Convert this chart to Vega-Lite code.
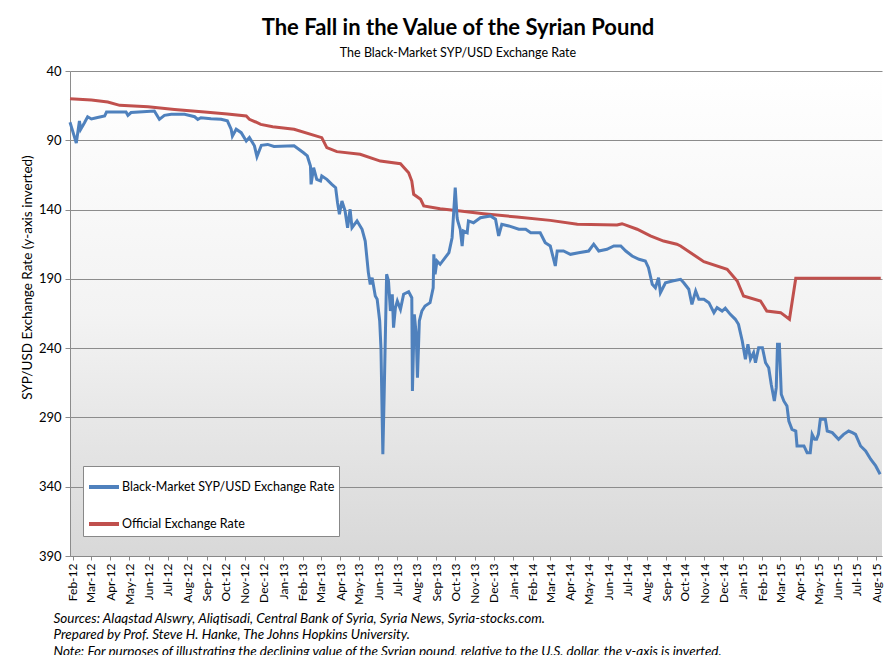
{
 "$schema": "https://vega.github.io/schema/vega-lite/v6.json",
 "width": 812,
 "height": 485,
 "autosize": {"type": "none"},
 "padding": {"left": 70, "top": 71, "right": 10, "bottom": 99},
 "background": "white",
 "title": {
  "text": "The Fall in the Value of the Syrian Pound",
  "subtitle": "The Black-Market SYP/USD Exchange Rate",
  "font": "Lato", "fontSize": 22, "fontWeight": "bold", "color": "#000",
  "subtitleFont": "Lato", "subtitleFontSize": 12.5, "subtitleColor": "#000",
  "subtitlePadding": 7, "anchor": "middle", "dx": -18, "offset": 5
 },
 "config": {
  "font": "Lato",
  "view": {
   "stroke": null,
   "fill": {"gradient": "linear", "x1": 0, "y1": 0, "x2": 0, "y2": 1,
    "stops": [{"offset": 0, "color": "#ffffff"}, {"offset": 0.5, "color": "#f3f3f3"}, {"offset": 1, "color": "#d8d8d8"}]}
  }
 },
 "datasets": {
  "blackmarket": [
   {"d":"2012-01-28","v":77},{"d":"2012-01-30","v":80},{"d":"2012-02-07","v":92},{"d":"2012-02-12","v":76},{"d":"2012-02-14","v":82},{"d":"2012-02-20","v":77.3},{"d":"2012-02-25","v":73},{"d":"2012-03-02","v":74.6},{"d":"2012-03-10","v":73.7},{"d":"2012-03-23","v":72.5},{"d":"2012-03-26","v":69.6},{"d":"2012-04-26","v":69.6},{"d":"2012-04-29","v":72},{"d":"2012-05-04","v":70},{"d":"2012-06-10","v":68.9},{"d":"2012-06-18","v":74.9},{"d":"2012-06-26","v":72},{"d":"2012-07-07","v":71.3},{"d":"2012-07-28","v":71.3},{"d":"2012-08-13","v":73},{"d":"2012-08-18","v":74.9},{"d":"2012-08-23","v":73.7},{"d":"2012-09-08","v":74.4},{"d":"2012-09-24","v":74.9},{"d":"2012-10-04","v":76},{"d":"2012-10-10","v":82},{"d":"2012-10-12","v":87},{"d":"2012-10-18","v":82},{"d":"2012-10-26","v":84.5},{"d":"2012-11-03","v":90.5},{"d":"2012-11-08","v":88},{"d":"2012-11-16","v":94},{"d":"2012-11-20","v":101.8},{"d":"2012-11-27","v":93.6},{"d":"2012-12-07","v":93},{"d":"2012-12-17","v":94.5},{"d":"2013-01-18","v":94},{"d":"2013-02-02","v":99},{"d":"2013-02-08","v":101.3},{"d":"2013-02-13","v":108.6},{"d":"2013-02-14","v":121.8},{"d":"2013-02-18","v":109.8},{"d":"2013-02-23","v":118.2},{"d":"2013-03-01","v":119.4},{"d":"2013-03-03","v":115.8},{"d":"2013-03-11","v":118.2},{"d":"2013-03-19","v":121.8},{"d":"2013-03-25","v":124.2},{"d":"2013-03-28","v":135},{"d":"2013-03-31","v":143.4},{"d":"2013-04-04","v":133.8},{"d":"2013-04-09","v":141},{"d":"2013-04-13","v":153.1},{"d":"2013-04-17","v":139.8},{"d":"2013-04-20","v":153.1},{"d":"2013-04-28","v":148.2},{"d":"2013-05-06","v":154.2},{"d":"2013-05-11","v":162.7},{"d":"2013-05-16","v":185.5},{"d":"2013-05-19","v":194},{"d":"2013-05-22","v":189.2},{"d":"2013-05-27","v":202.4},{"d":"2013-05-30","v":204.7},{"d":"2013-06-03","v":220.4},{"d":"2013-06-05","v":239.7},{"d":"2013-06-08","v":316.6},{"d":"2013-06-10","v":275.7},{"d":"2013-06-14","v":186.7},{"d":"2013-06-17","v":191.5},{"d":"2013-06-20","v":213.2},{"d":"2013-06-23","v":201.1},{"d":"2013-06-25","v":225.2},{"d":"2013-06-28","v":210.8},{"d":"2013-07-01","v":206},{"d":"2013-07-06","v":212},{"d":"2013-07-11","v":201.1},{"d":"2013-07-19","v":199.3},{"d":"2013-07-24","v":203.6},{"d":"2013-07-25","v":270.9},{"d":"2013-07-28","v":215.6},{"d":"2013-07-31","v":230},{"d":"2013-08-02","v":261.3},{"d":"2013-08-05","v":220.4},{"d":"2013-08-09","v":213.2},{"d":"2013-08-14","v":209.6},{"d":"2013-08-22","v":207.2},{"d":"2013-08-27","v":196.4},{"d":"2013-08-28","v":172.3},{"d":"2013-08-30","v":186.7},{"d":"2013-09-02","v":177.1},{"d":"2013-09-07","v":179.5},{"d":"2013-09-15","v":174.7},{"d":"2013-09-21","v":171.1},{"d":"2013-09-26","v":160.3},{"d":"2013-09-28","v":145.9},{"d":"2013-10-01","v":124.2},{"d":"2013-10-04","v":145.9},{"d":"2013-10-05","v":148.2},{"d":"2013-10-09","v":154.2},{"d":"2013-10-12","v":166.3},{"d":"2013-10-14","v":155.5},{"d":"2013-10-20","v":156.7},{"d":"2013-10-22","v":148.2},{"d":"2013-10-30","v":149.5},{"d":"2013-11-10","v":145.9},{"d":"2013-11-26","v":144.6},{"d":"2013-12-04","v":147},{"d":"2013-12-09","v":159},{"d":"2013-12-14","v":150.6},{"d":"2013-12-25","v":151.8},{"d":"2014-01-10","v":154.2},{"d":"2014-01-21","v":154.2},{"d":"2014-01-29","v":156.7},{"d":"2014-02-13","v":156.7},{"d":"2014-02-21","v":163.9},{"d":"2014-03-01","v":166.3},{"d":"2014-03-09","v":180.7},{"d":"2014-03-12","v":169.9},{"d":"2014-03-22","v":169.9},{"d":"2014-04-02","v":172.3},{"d":"2014-04-15","v":171.1},{"d":"2014-05-01","v":169.9},{"d":"2014-05-09","v":165},{"d":"2014-05-17","v":169.9},{"d":"2014-05-30","v":168.7},{"d":"2014-06-10","v":166.3},{"d":"2014-06-21","v":166.3},{"d":"2014-06-29","v":169.9},{"d":"2014-07-09","v":173.5},{"d":"2014-07-20","v":175.9},{"d":"2014-07-30","v":177.1},{"d":"2014-08-04","v":181.9},{"d":"2014-08-10","v":193.9},{"d":"2014-08-15","v":196.4},{"d":"2014-08-20","v":189.2},{"d":"2014-08-23","v":200},{"d":"2014-08-31","v":192.8},{"d":"2014-09-11","v":191.5},{"d":"2014-09-24","v":190.3},{"d":"2014-09-29","v":192.8},{"d":"2014-10-07","v":197.5},{"d":"2014-10-12","v":208.4},{"d":"2014-10-18","v":198.8},{"d":"2014-10-23","v":204.7},{"d":"2014-10-31","v":204.7},{"d":"2014-11-08","v":207.2},{"d":"2014-11-16","v":214.4},{"d":"2014-11-21","v":210.8},{"d":"2014-11-29","v":213.2},{"d":"2014-12-04","v":211.2},{"d":"2014-12-12","v":215.6},{"d":"2014-12-20","v":219.2},{"d":"2014-12-25","v":222.8},{"d":"2014-12-31","v":234.8},{"d":"2015-01-05","v":248},{"d":"2015-01-09","v":237.2},{"d":"2015-01-13","v":248},{"d":"2015-01-18","v":243.3},{"d":"2015-01-21","v":250.5},{"d":"2015-01-26","v":239.7},{"d":"2015-02-01","v":239.7},{"d":"2015-02-06","v":250.5},{"d":"2015-02-11","v":254.1},{"d":"2015-02-15","v":266.1},{"d":"2015-02-20","v":278.1},{"d":"2015-02-23","v":268.5},{"d":"2015-02-25","v":237.2},{"d":"2015-02-28","v":237.2},{"d":"2015-03-03","v":273.3},{"d":"2015-03-07","v":278.1},{"d":"2015-03-12","v":281.7},{"d":"2015-03-15","v":292.6},{"d":"2015-03-20","v":298.6},{"d":"2015-03-26","v":299.8},{"d":"2015-03-28","v":310.6},{"d":"2015-04-08","v":310.6},{"d":"2015-04-13","v":315.4},{"d":"2015-04-18","v":315.4},{"d":"2015-04-21","v":302.2},{"d":"2015-04-25","v":305.8},{"d":"2015-04-28","v":305.8},{"d":"2015-05-01","v":302.2},{"d":"2015-05-04","v":291.4},{"d":"2015-05-12","v":291.4},{"d":"2015-05-15","v":299.8},{"d":"2015-05-23","v":301},{"d":"2015-06-02","v":305.8},{"d":"2015-06-10","v":302.2},{"d":"2015-06-18","v":299.8},{"d":"2015-06-24","v":301},{"d":"2015-06-29","v":302.2},{"d":"2015-07-07","v":310.6},{"d":"2015-07-15","v":314.2},{"d":"2015-07-23","v":320.2},{"d":"2015-07-31","v":325},{"d":"2015-08-07","v":331}
  ],
  "official": [
   {"d":"2012-01-28","v":60},{"d":"2012-03-02","v":61},{"d":"2012-03-28","v":62.4},{"d":"2012-04-16","v":64.8},{"d":"2012-05-31","v":65.8},{"d":"2012-07-12","v":67.7},{"d":"2012-08-29","v":69.6},{"d":"2012-10-04","v":71},{"d":"2012-11-03","v":72.5},{"d":"2012-11-08","v":74.9},{"d":"2012-11-18","v":76.8},{"d":"2012-11-26","v":78.5},{"d":"2012-12-15","v":80.2},{"d":"2013-01-18","v":82},{"d":"2013-03-03","v":88.1},{"d":"2013-03-11","v":95.3},{"d":"2013-03-27","v":98.2},{"d":"2013-05-03","v":100.1},{"d":"2013-06-04","v":105},{"d":"2013-07-06","v":106.9},{"d":"2013-07-19","v":113.4},{"d":"2013-07-24","v":119.4},{"d":"2013-07-27","v":129},{"d":"2013-08-07","v":132.6},{"d":"2013-08-12","v":137.4},{"d":"2013-09-07","v":139.4},{"d":"2013-10-09","v":141},{"d":"2013-11-15","v":143},{"d":"2014-01-07","v":145.4},{"d":"2014-03-01","v":147.8},{"d":"2014-04-13","v":150.6},{"d":"2014-06-15","v":151.1},{"d":"2014-06-23","v":150.2},{"d":"2014-07-17","v":154.2},{"d":"2014-08-07","v":159},{"d":"2014-08-28","v":162.7},{"d":"2014-09-18","v":165},{"d":"2014-09-24","v":166.3},{"d":"2014-10-31","v":177.6},{"d":"2014-12-07","v":183.1},{"d":"2014-12-23","v":191.5},{"d":"2015-01-02","v":202.4},{"d":"2015-01-29","v":206},{"d":"2015-02-08","v":213.2},{"d":"2015-03-02","v":214.4},{"d":"2015-03-16","v":219.2},{"d":"2015-03-26","v":189.6},{"d":"2015-08-08","v":189.6}
  ]
 },
 "encoding": {
  "x": {
   "field": "d", "type": "temporal",
   "scale": {"type": "utc", "domain": [{"year": 2012, "month": 1, "date": 28, "utc": true}, {"year": 2015, "month": 8, "date": 10, "utc": true}]},
   "axis": {
    "format": "%b-%y", "tickCount": {"interval": "month", "step": 1},
    "labelAngle": 270, "labelFontSize": 12, "labelColor": "#000", "labelPadding": 3,
    "labelOverlap": false, "labelFlush": false, "labelBound": false,
    "grid": false, "domainColor": "#888", "tickColor": "#888", "tickSize": 4,
    "title": ["Sources: Alaqstad Alswry, Aliqtisadi, Central Bank of Syria, Syria News, Syria-stocks.com.", "Prepared by Prof. Steve H. Hanke, The Johns Hopkins University.", "Note: For purposes of illustrating the declining value of the Syrian pound, relative to the U.S. dollar, the y-axis is inverted."],
    "titleAnchor": "start", "titleAlign": "left", "titleX": -17, "titleY": 55, "titleBaseline": "top",
    "titleFontStyle": "italic", "titleFontWeight": "normal", "titleFontSize": 13.5, "titleLineHeight": 16.5, "titleColor": "#000"
   }
  },
  "y": {
   "field": "v", "type": "quantitative",
   "scale": {"domain": [40, 390], "reverse": true, "nice": false, "zero": false},
   "axis": {
    "values": [40, 90, 140, 190, 240, 290, 340, 390],
    "grid": true, "gridColor": "#8c8c8c", "domainColor": "#8c8c8c", "tickColor": "#8c8c8c", "tickSize": 5,
    "labelFontSize": 13, "labelColor": "#000", "labelPadding": 4,
    "title": "SYP/USD Exchange Rate (y-axis inverted)", "titleFontSize": 13.5, "titleFontWeight": "normal", "titleColor": "#000",
    "titleX": -43, "titleY": 206, "titleAngle": 270, "titleAlign": "center", "titleBaseline": "middle"
   }
  }
 },
 "layer": [
  {
   "data": {"name": "official"},
   "mark": {"type": "line", "strokeWidth": 3},
   "encoding": {"color": {"datum": "Official Exchange Rate"}}
  },
  {
   "data": {"name": "blackmarket"},
   "mark": {"type": "line", "strokeWidth": 3},
   "encoding": {
    "color": {
     "datum": "Black-Market SYP/USD Exchange Rate",
     "scale": {"domain": ["Black-Market SYP/USD Exchange Rate", "Official Exchange Rate"], "range": ["#4F81BD", "#C0504D"]},
     "legend": {
      "title": null, "orient": "none", "legendX": 13, "legendY": 395, "direction": "vertical",
      "symbolType": "stroke", "symbolStrokeWidth": 4, "symbolSize": 900,
      "labelFontSize": 12.5, "labelColor": "#000", "labelOffset": 1, "labelLimit": 0,
      "fillColor": "white", "strokeColor": "#888", "padding": 4, "rowPadding": 12
     }
    }
   }
  }
 ]
}
